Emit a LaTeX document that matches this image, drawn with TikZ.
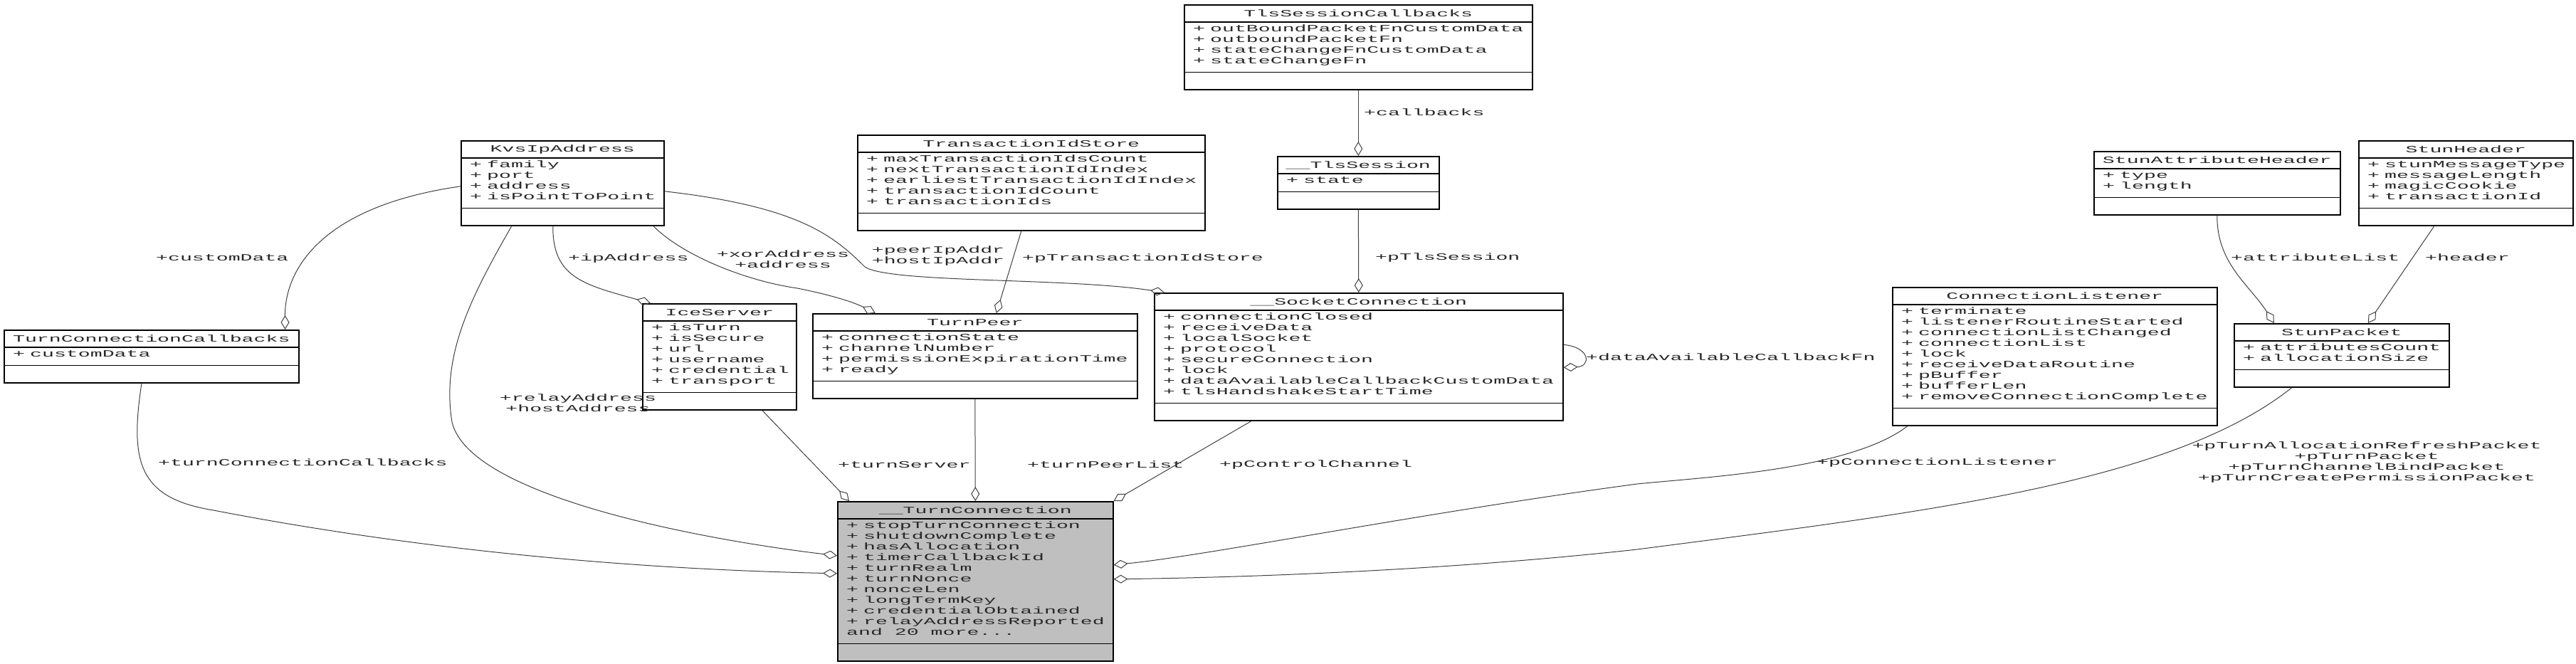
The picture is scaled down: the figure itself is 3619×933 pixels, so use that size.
\documentclass[tikz,border=0pt]{standalone}
\usepackage{fontspec}
\newfontfamily\boxfont[FakeStretch=2.09]{Liberation Mono}
\usetikzlibrary{arrows.meta, positioning, calc}
\definecolor{edgegray}{RGB}{64,64,64}
\definecolor{textgray}{RGB}{40,40,40}
\definecolor{turnfill}{RGB}{191,191,191}
\newcommand{\umlfont}{\fontsize{13.5}{15}\boxfont}
\newcommand{\att}[1]{\strut\makebox[24pt][l]{+}#1}
\tikzset{
  classbox/.style={rectangle, draw=black, line width=1.6pt, inner sep=0pt, fill=white},
  sepline/.style={draw=black, line width=1.6pt},
  titletext/.style={inner sep=0pt, font=\umlfont, text=textgray},
  attrtext/.style={inner sep=0pt, align=left, font=\umlfont, text=textgray},
  elabel/.style={inner sep=0pt, align=center, font=\umlfont, text=textgray},
  aggr/.style={-{Diamond[open, length=20pt, width=12pt]}, draw=edgegray, line width=1pt},
}
% one UML class box: [fill] name, x, y, width, lines, title, attributes
\newcommand{\umlclass}[8][white]{%
  \node[classbox, fill=#1, minimum width=#5, minimum height=15*#6+59, anchor=north west] (#2) at (#3,#4) {};
  \draw[sepline] ([yshift=-25pt]#2.north west) -- ([yshift=-25pt]#2.north east);
  \draw[sepline] ([yshift=25pt]#2.south west) -- ([yshift=25pt]#2.south east);
  \node[titletext] (#2-title) at ([yshift=-13pt]#2.north) {#7};
  \node[attrtext, anchor=north west] (#2-attrs) at ([xshift=13pt, yshift=-28pt]#2.north west) {#8};
}

\begin{document}
\begin{tikzpicture}[x=1pt, y=-1pt]
  \useasboundingbox (0,0) rectangle (3619,933);

  % classes
  \umlclass{tlscb}{1663}{6}{489}{4}{TlsSessionCallbacks}{\att{outBoundPacketFnCustomData}\\\att{outboundPacketFn}\\\att{stateChangeFnCustomData}\\\att{stateChangeFn}}
  \umlclass{tlssess}{1794}{219}{227}{1}{\_\_TlsSession}{\att{state}}
  \umlclass{kvsip}{647}{197}{285}{4}{KvsIpAddress}{\att{family}\\\att{port}\\\att{address}\\\att{isPointToPoint}}
  \umlclass{txstore}{1204}{189}{488}{5}{TransactionIdStore}{\att{maxTransactionIdsCount}\\\att{nextTransactionIdIndex}\\\att{earliestTransactionIdIndex}\\\att{transactionIdCount}\\\att{transactionIds}}
  \umlclass{stunattr}{2941}{212}{346}{2}{StunAttributeHeader}{\att{type}\\\att{length}}
  \umlclass{stunhdr}{3313}{197}{301}{4}{StunHeader}{\att{stunMessageType}\\\att{messageLength}\\\att{magicCookie}\\\att{transactionId}}
  \umlclass{turncb}{5}{463}{414}{1}{TurnConnectionCallbacks}{\att{customData}}
  \umlclass{iceserver}{902}{426}{216}{6}{IceServer}{\att{isTurn}\\\att{isSecure}\\\att{url}\\\att{username}\\\att{credential}\\\att{transport}}
  \umlclass{turnpeer}{1141}{440}{456}{4}{TurnPeer}{\att{connectionState}\\\att{channelNumber}\\\att{permissionExpirationTime}\\\att{ready}}
  \umlclass{sockconn}{1621}{411}{574}{8}{\_\_SocketConnection}{\att{connectionClosed}\\\att{receiveData}\\\att{localSocket}\\\att{protocol}\\\att{secureConnection}\\\att{lock}\\\att{dataAvailableCallbackCustomData}\\\att{tlsHandshakeStartTime}}
  \umlclass{connlist}{2658}{403}{456}{9}{ConnectionListener}{\att{terminate}\\\att{listenerRoutineStarted}\\\att{connectionListChanged}\\\att{connectionList}\\\att{lock}\\\att{receiveDataRoutine}\\\att{pBuffer}\\\att{bufferLen}\\\att{removeConnectionComplete}}
  \umlclass{stunpkt}{3138}{454}{302}{2}{StunPacket}{\att{attributesCount}\\\att{allocationSize}}
  \umlclass[turnfill]{turnconn}{1176}{704}{387}{11}{\_\_TurnConnection}{\att{stopTurnConnection}\\\att{shutdownComplete}\\\att{hasAllocation}\\\att{timerCallbackId}\\\att{turnRealm}\\\att{turnNonce}\\\att{nonceLen}\\\att{longTermKey}\\\att{credentialObtained}\\\att{relayAddressReported}\\\strut and 20 more...}

  % aggregations
  \draw[aggr] (tlscb.south) -- (tlssess.north);
  \draw[aggr] (tlssess.south) -- (sockconn.north);
  \draw[aggr] ([xshift=-13.5pt]kvsip.south) .. controls (776,390) and (820,400) .. ([xshift=-97pt]iceserver.north);
  \draw[aggr] ([xshift=127.5pt]kvsip.south) .. controls (960,360) and (1050,395) .. (1120,405) .. controls (1170,415) and (1200,425) .. ([xshift=-140pt]turnpeer.north);
  \draw[aggr] ([yshift=-11.5pt]kvsip.east) .. controls (1120,290) and (1170,330) .. (1215,375) .. controls (1250,398) and (1500,390) .. ([xshift=15pt]sockconn.north west);
  \draw[aggr] ([xshift=-71.5pt]kvsip.south) .. controls (660,420) and (620,500) .. (635,593) .. controls (660,700) and (1000,760) .. ([yshift=36pt]turnconn.west);
  \draw[aggr] ([yshift=-4.5pt]kvsip.west) .. controls (450,290) and (400,380) .. ([xshift=-20pt]turncb.north east);
  \draw[aggr] ([xshift=-14pt]txstore.south) -- ([xshift=30pt]turnpeer.north);
  \draw[aggr] ([yshift=17pt]sockconn.east) .. controls (2235,488) and (2235,515) .. ([yshift=-15pt]sockconn.east);
  \draw[aggr] (stunattr.south) .. controls (3114,370) and (3160,400) .. ([xshift=-95pt]stunpkt.north);
  \draw[aggr] ([xshift=-44.5pt]stunhdr.south) -- ([xshift=37pt]stunpkt.north);
  \draw[aggr] ([xshift=194pt]turncb.south west) .. controls (182,650) and (195,700) .. (300,717) .. controls (600,775) and (900,800) .. ([yshift=11pt]turnconn.west);
  \draw[aggr] ([xshift=60pt]iceserver.south) -- ([xshift=17pt]turnconn.north west);
  \draw[aggr] (turnpeer.south) -- (turnconn.north);
  \draw[aggr] ([xshift=137pt]sockconn.south west) -- (turnconn.north east);
  \draw[aggr] ([xshift=22pt]connlist.south west) .. controls (2600,660) and (2400,670) .. (2300,680) .. controls (2000,720) and (1700,780) .. ([yshift=23pt]turnconn.east);
  \draw[aggr] ([xshift=-70pt]stunpkt.south) .. controls (3050,680) and (2700,720) .. (2300,772) .. controls (2000,805) and (1700,812) .. ([yshift=3pt]turnconn.east);

  % labels
  \node[elabel, anchor=west] (lcallbacks) at (1916,158) {+callbacks};
  \node[elabel, anchor=west] (ltlssess) at (1932,362) {+pTlsSession};
  \node[elabel, anchor=west] (lipaddr) at (798,363) {+ipAddress};
  \node[elabel] (lxoraddr) at (1100,364) {+xorAddress\\+address};
  \node[elabel] (lpeeraddr) at (1318,360) {+peerIpAddr\\+hostIpAddr};
  \node[elabel, anchor=west] (ltxstore) at (1436,363) {+pTransactionIdStore};
  \node[elabel, anchor=west] (ldatacb) at (2228,502) {+dataAvailableCallbackFn};
  \node[elabel, anchor=west] (lattrlist) at (3134,362) {+attributeList};
  \node[elabel, anchor=west] (lheader) at (3407,362) {+header};
  \node[elabel, anchor=west] (lturncb) at (222,650) {+turnConnectionCallbacks};
  \node[elabel, anchor=west] (lcontrol) at (1713,653) {+pControlChannel};
  \node[elabel, anchor=east] (lconnlist) at (2891,650) {+pConnectionListener};
  \node[elabel] (lpackets) at (3325,650) {+pTurnAllocationRefreshPacket\\+pTurnPacket\\+pTurnChannelBindPacket\\+pTurnCreatePermissionPacket};
  \node[elabel] (lturnaddr) at (812,566) {+relayAddress\\+hostAddress};
  \node[elabel, anchor=west] (lcustom) at (219,362) {+customData};
  \node[elabel, anchor=west] (lturnserver) at (1177,653) {+turnServer};
  \node[elabel, anchor=west] (lturnpeers) at (1443,653) {+turnPeerList};
\end{tikzpicture}
\end{document}
